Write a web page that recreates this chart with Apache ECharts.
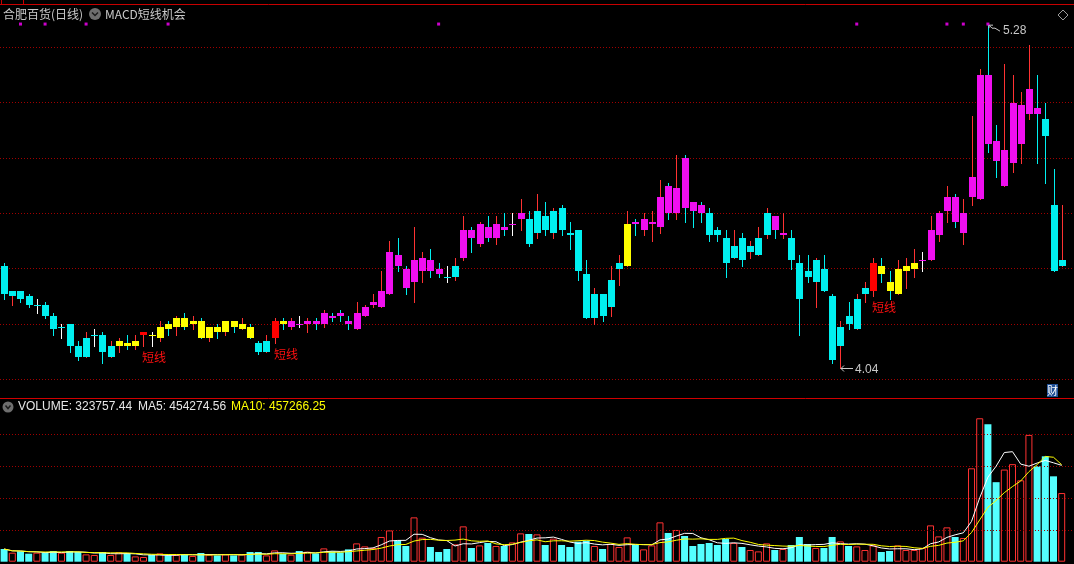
<!DOCTYPE html>
<html><head><meta charset="utf-8">
<script src="https://cdn.jsdelivr.net/npm/echarts/dist/echarts.min.js"></script>
<style>html,body{margin:0;padding:0;background:#000;overflow:hidden}#c{width:1074px;height:564px}</style>
</head><body><div id="c"></div>
<script>
// ---------- data ----------
const opens  = [4.41,4.30,4.32,4.30,4.27,4.27,4.23,4.19,4.20,4.12,4.08,4.16,4.16,4.08,4.12,4.13,4.12,4.16,4.16,4.15,
                4.20,4.19,4.22,4.20,4.21,4.15,4.19,4.17,4.21,4.18,4.19,4.13,4.10,4.15,4.21,4.19,4.20,4.20,4.21,4.20,
                4.23,4.24,4.21,4.18,4.23,4.27,4.26,4.31,4.45,4.40,4.35,4.39,4.43,4.40,4.37,4.37,4.44,4.54,4.49,4.55,
                4.51,4.55,4.56,4.58,4.58,4.53,4.59,4.53,4.62,4.53,4.54,4.38,4.22,4.31,4.26,4.40,4.41,4.57,4.54,4.56,
                4.55,4.70,4.60,4.80,4.64,4.63,4.60,4.54,4.51,4.44,4.51,4.46,4.45,4.52,4.59,4.52,4.51,4.42,4.39,4.35,
                4.40,4.30,4.12,4.23,4.18,4.31,4.32,4.41,4.35,4.31,4.39,4.40,4.43,4.43,4.52,4.61,4.66,4.53,4.66,4.65,
                5.10,4.86,4.70,4.78,4.85,4.96,4.98,4.94,4.63,4.41];
const closes = [4.31,4.32,4.29,4.27,4.27,4.23,4.18,4.19,4.12,4.08,4.15,4.16,4.10,4.12,4.14,4.12,4.14,4.17,4.16,4.19,
                4.18,4.22,4.19,4.21,4.15,4.19,4.17,4.21,4.19,4.20,4.15,4.10,4.14,4.21,4.20,4.21,4.20,4.21,4.20,4.24,
                4.22,4.23,4.20,4.24,4.26,4.28,4.32,4.46,4.41,4.33,4.43,4.44,4.39,4.38,4.37,4.41,4.54,4.51,4.56,4.51,
                4.56,4.54,4.56,4.60,4.49,4.61,4.54,4.61,4.54,4.52,4.39,4.22,4.31,4.23,4.36,4.42,4.56,4.56,4.58,4.57,
                4.66,4.60,4.69,4.62,4.61,4.60,4.52,4.52,4.42,4.48,4.43,4.48,4.51,4.60,4.54,4.53,4.43,4.29,4.37,4.43,
                4.32,4.07,4.19,4.20,4.29,4.33,4.42,4.38,4.32,4.40,4.41,4.42,4.43,4.54,4.60,4.66,4.57,4.60,4.73,5.10,
                4.85,4.79,4.83,5.00,4.99,5.05,4.96,4.88,4.39,4.43];
const lows   = [4.29,4.27,4.28,4.26,4.24,4.22,4.16,4.15,4.10,4.07,4.08,4.12,4.06,4.08,4.10,4.11,4.11,4.12,4.12,4.14,
                4.16,4.16,4.18,4.18,4.15,4.14,4.15,4.16,4.17,4.18,4.15,4.09,4.10,4.13,4.18,4.18,4.19,4.17,4.18,4.19,
                4.21,4.21,4.18,4.18,4.23,4.26,4.26,4.31,4.39,4.31,4.28,4.35,4.37,4.37,4.35,4.36,4.43,4.46,4.48,4.50,
                4.49,4.52,4.52,4.54,4.48,4.51,4.52,4.51,4.52,4.47,4.36,4.22,4.20,4.21,4.23,4.34,4.41,4.52,4.52,4.50,
                4.53,4.58,4.58,4.57,4.55,4.57,4.50,4.50,4.37,4.44,4.41,4.44,4.45,4.51,4.51,4.51,4.40,4.16,4.35,4.26,
                4.32,4.06,4.04,4.18,4.18,4.28,4.30,4.35,4.29,4.31,4.33,4.37,4.39,4.43,4.50,4.57,4.55,4.49,4.63,4.65,
                4.82,4.73,4.70,4.75,4.78,4.94,4.78,4.71,4.39,4.41];
const highs  = [4.42,4.32,4.32,4.31,4.29,4.28,4.24,4.20,4.20,4.14,4.17,4.18,4.17,4.14,4.15,4.16,4.16,4.17,4.17,4.21,
                4.21,4.23,4.24,4.23,4.22,4.19,4.20,4.21,4.21,4.22,4.20,4.14,4.16,4.22,4.22,4.22,4.23,4.22,4.22,4.25,
                4.24,4.25,4.23,4.28,4.27,4.31,4.39,4.50,4.51,4.41,4.55,4.46,4.47,4.42,4.41,4.44,4.59,4.55,4.57,4.59,
                4.59,4.60,4.60,4.65,4.61,4.67,4.64,4.62,4.63,4.57,4.54,4.43,4.33,4.31,4.41,4.45,4.61,4.58,4.60,4.61,
                4.72,4.71,4.81,4.81,4.64,4.64,4.62,4.55,4.54,4.54,4.53,4.50,4.55,4.62,4.59,4.60,4.54,4.45,4.45,4.44,
                4.45,4.31,4.21,4.28,4.31,4.35,4.44,4.44,4.39,4.43,4.44,4.47,4.46,4.59,4.61,4.70,4.67,4.65,4.95,5.12,
                5.28,4.92,5.14,5.10,5.04,5.21,5.10,5.00,4.76,4.63];
// indicator colour of each candle: C cyan, M magenta, Y yellow, R red (signal)
const bodyCodes = ('CCCCCCCCCCCCCC' + 'YYY' + 'R' + 'YYYYYYYYYYYYY' + 'CC' + 'R' + 'Y' +
                   'MMMMMMMMMMMMMMMMMMM' + 'CC' + 'MMMMMMMM' + 'CCCCCCCCCCCC' + 'Y' + 'MMMMMMMMM' +
                   'CCCCCCCC' + 'MM' + 'CCCCCCCCCC' + 'R' + 'YYYYY' + 'MMMMMMMMMMMMMMM' + 'CCC').split('');
const volumes = [59900,42500,49100,37800,42500,42500,50500,42500,50500,45800,34500,31600,45800,31600,43900,39200,25000,22200,31600,39200,
                 29700,31600,36300,26900,41100,33000,29700,34500,29700,34500,45800,45800,29700,53300,36300,33000,50500,47200,39200,62800,
                 48600,43900,58100,86400,72200,64700,116600,147700,100500,74100,209100,113300,69400,45800,59900,81700,166600,64700,76900,88300,
                 74100,74100,91100,133600,130700,128900,78800,108600,78800,69400,94400,99100,74100,59900,83500,69400,114700,78800,58100,76900,
                 185500,135500,149600,121300,74100,83500,88300,78800,107100,88300,69400,55200,48600,86400,55200,59900,78800,116600,83500,64700,
                 64700,116600,95800,74100,72200,55200,76900,45800,50500,76900,55200,55200,64700,171300,119400,161900,116600,111900,440400,676400,
                 648000,375000,434500,460000,383790,598000,450000,497000,402616,323757.44];
const signalDots = [2,5,10,20,53,104,115,117,120];     // small magenta marks on the top edge
const priceGrid = [4.0,4.2,4.4,4.6,4.8,5.0,5.2];
const volumeGrid = [150000,300000,450000,600000];
const headerStock = '合肥百货(日线)';
const headerIndicator = 'MACD短线机会';
const volHeader = ['VOLUME: 323757.44', 'MA5: 454274.56', 'MA10: 457266.25'];
const categories = Array.from({length: 131}, (_, i) => String(i + 1)); // last slot is the empty right margin

// ---------- derived ----------
const N = opens.length;
const isUp = opens.map((o, i) => closes[i] > opens[i] || (closes[i] === opens[i] && (i === 0 || closes[i] >= closes[i - 1])));
function ma(n) { return volumes.map((v, i) => { let s = 0, c = 0; for (let k = Math.max(0, i - n + 1); k <= i; k++) { s += volumes[k]; c++; } return +(s / c).toFixed(2); }); }
const ma5 = ma(5), ma10 = ma(10);
let hiIdx = 0, loIdx = 0;
for (let i = 0; i < N; i++) { if (highs[i] > highs[hiIdx]) hiIdx = i; if (lows[i] < lows[loIdx]) loIdx = i; }

const palette = { C: '#00f0f0', M: '#f00ff0', Y: '#ffff00', R: '#ff0000' };
const WICK_UP = '#ff3232', WICK_DN = '#00f0f0';
const FONT = '12px "Liberation Sans", "Noto Sans CJK SC", sans-serif';
const CJK = '12px "Noto Sans CJK SC", sans-serif';
const GRIDLINE = { color: '#a00000', type: [1, 2], width: 1 };

function renderCandle(params, api) {
  const i = api.value(0), o = api.value(1), c = api.value(2), l = api.value(3), h = api.value(4);
  const pO = api.coord([i, o]), pC = api.coord([i, c]), pL = api.coord([i, l]), pH = api.coord([i, h]);
  const x = Math.round(pO[0]);
  const top = Math.round(Math.min(pO[1], pC[1])), bot = Math.round(Math.max(pO[1], pC[1]));
  const doji = o === c;
  const bodyColor = palette[bodyCodes[i]];
  const wick = doji ? '#ffffff' : (isUp[i] ? WICK_UP : WICK_DN);
  const ch = [
    { type: 'line', shape: { x1: x + 0.5, y1: Math.round(pH[1]), x2: x + 0.5, y2: Math.round(pL[1]) + 1 }, style: { stroke: wick, lineWidth: 1 } }
  ];
  if (doji) {
    ch.push({ type: 'line', shape: { x1: x - 3, y1: top + 0.5, x2: x + 4, y2: top + 0.5 }, style: { stroke: bodyColor, lineWidth: 1 } });
  } else {
    ch.push({ type: 'rect', shape: { x: x - 3, y: top, width: 7, height: Math.max(1, bot - top) }, style: { fill: bodyColor } });
  }
  if (bodyCodes[i] === 'R') {
    ch.push({ type: 'text', x: x - 1, y: pL[1] + 5, style: { text: '短线', fill: '#ff1010', font: CJK, textAlign: 'left', textVerticalAlign: 'top' } });
  }
  if (i === hiIdx) {
    const y = pH[1];
    ch.push({ type: 'polyline', shape: { points: [[x + 1, y], [x + 4, y + 3], [x + 7, y + 3], [x + 12, y + 6]] }, style: { stroke: '#c8c8c8', fill: null, lineWidth: 1 } });
    ch.push({ type: 'polyline', shape: { points: [[x + 5, y], [x + 1, y], [x + 1, y + 3]] }, style: { stroke: '#c8c8c8', fill: null, lineWidth: 1 } });
    ch.push({ type: 'text', x: x + 15, y: y + 6, style: { text: h.toFixed(2), fill: '#c8c8c8', font: FONT, textAlign: 'left', textVerticalAlign: 'middle' } });
  }
  if (i === loIdx) {
    const y = Math.round(pL[1]) + 0.5;
    ch.push({ type: 'line', shape: { x1: x + 1, y1: y, x2: x + 13, y2: y }, style: { stroke: '#c8c8c8', lineWidth: 1 } });
    ch.push({ type: 'polyline', shape: { points: [[x + 4, y - 3], [x + 1, y], [x + 4, y + 3]] }, style: { stroke: '#c8c8c8', fill: null, lineWidth: 1 } });
    ch.push({ type: 'text', x: x + 15, y: y + 1, style: { text: l.toFixed(2), fill: '#c8c8c8', font: FONT, textAlign: 'left', textVerticalAlign: 'middle' } });
  }
  return { type: 'group', children: ch };
}

const candleData = opens.map((o, i) => [i, o, closes[i], lows[i], highs[i]]);
const volData = volumes.map((v, i) => ({
  value: v,
  itemStyle: isUp[i] ? { color: '#000000', borderColor: '#ff3232', borderWidth: 1 } : { color: '#54ffff' }
}));

const chart = echarts.init(document.getElementById('c'), null, { renderer: 'canvas' });
chart.setOption({
  backgroundColor: '#000000',
  animation: false,
  grid: [
    { left: 0, right: 0, top: 4, height: 394 },
    { left: 0, right: 0, top: 398, height: 163.7 }
  ],
  xAxis: [
    { type: 'category', data: categories, gridIndex: 0, show: false, boundaryGap: true },
    { type: 'category', data: categories, gridIndex: 1, show: false, boundaryGap: true }
  ],
  yAxis: [
    { type: 'value', gridIndex: 0, min: 3.9324, max: 5.3565, show: false, splitLine: { show: false } },
    { type: 'value', gridIndex: 1, min: 0, max: 772000, show: false, splitLine: { show: false } }
  ],
  series: [
    {
      type: 'custom', xAxisIndex: 0, yAxisIndex: 0, renderItem: renderCandle, data: candleData,
      encode: { x: 0, y: [1, 2, 3, 4] }, clip: false, z: 5,
      markLine: { silent: true, symbol: 'none', label: { show: false }, lineStyle: GRIDLINE,
        data: priceGrid.map(v => ({ yAxis: v })), z: 1 }
    },
    {
      type: 'scatter', xAxisIndex: 0, yAxisIndex: 0, symbol: 'rect', symbolSize: 3,
      itemStyle: { color: '#ff00ff' }, data: signalDots.map(i => [i, 5.284]), z: 6
    },
    {
      type: 'bar', xAxisIndex: 1, yAxisIndex: 1, data: volData, barWidth: 7, z: 3,
      markLine: { silent: true, symbol: 'none', label: { show: false }, lineStyle: GRIDLINE,
        data: volumeGrid.map(v => ({ yAxis: v })) }
    },
    { type: 'line', xAxisIndex: 1, yAxisIndex: 1, data: ma5, showSymbol: false, lineStyle: { color: '#ffffff', width: 1 }, z: 6 },
    { type: 'line', xAxisIndex: 1, yAxisIndex: 1, data: ma10, showSymbol: false, lineStyle: { color: '#ffff00', width: 1 }, z: 6 }
  ],
  graphic: [
    { type: 'line', shape: { x1: 0, y1: 4.5, x2: 1074, y2: 4.5 }, style: { stroke: '#c80000', lineWidth: 1 } },
    { type: 'line', shape: { x1: 1.5, y1: 0, x2: 1.5, y2: 4 }, style: { stroke: '#c80000', lineWidth: 1 } },
    { type: 'line', shape: { x1: 23.5, y1: 0, x2: 23.5, y2: 4 }, style: { stroke: '#c80000', lineWidth: 1 } },
    { type: 'line', shape: { x1: 0, y1: 398.5, x2: 1074, y2: 398.5 }, style: { stroke: '#d00000', lineWidth: 1 }, z: 10 },
    { type: 'text', x: 3, y: 14, style: { text: headerStock, fill: '#c8c8c8', font: CJK, textVerticalAlign: 'middle' } },
    { type: 'circle', shape: { cx: 95, cy: 14, r: 6 }, style: { fill: '#6e6e6e' } },
    { type: 'polyline', shape: { points: [[92, 12.5], [95, 15.5], [98, 12.5]] }, style: { stroke: '#1c1c1c', lineWidth: 1.5, fill: null } },
    { type: 'text', x: 105, y: 14, style: { text: headerIndicator, fill: '#c8c8c8', font: CJK, textVerticalAlign: 'middle' } },
    { type: 'polygon', shape: { points: [[1063, 10], [1068, 15], [1063, 20], [1058, 15]] }, style: { stroke: '#9a9a9a', fill: null, lineWidth: 1 } },
    { type: 'rect', shape: { x: 1047, y: 384, width: 11, height: 13 }, style: { fill: '#1f4f96' } },
    { type: 'text', x: 1052.5, y: 390.5, style: { text: '财', fill: '#ffffff', font: '11px "Noto Sans CJK SC"', textAlign: 'center', textVerticalAlign: 'middle' } },
    { type: 'circle', shape: { cx: 8, cy: 407, r: 5.5 }, style: { fill: '#6e6e6e' } },
    { type: 'polyline', shape: { points: [[5.5, 405.5], [8, 408.5], [10.5, 405.5]] }, style: { stroke: '#1c1c1c', lineWidth: 1.5, fill: null } },
    { type: 'text', x: 18, y: 407, style: { text: volHeader[0], fill: '#e6e6e6', font: FONT, textVerticalAlign: 'middle' } },
    { type: 'text', x: 138, y: 407, style: { text: volHeader[1], fill: '#e6e6e6', font: FONT, textVerticalAlign: 'middle' } },
    { type: 'text', x: 231, y: 407, style: { text: volHeader[2], fill: '#ffff00', font: FONT, textVerticalAlign: 'middle' } }
  ]
});
</script>
</body></html>
